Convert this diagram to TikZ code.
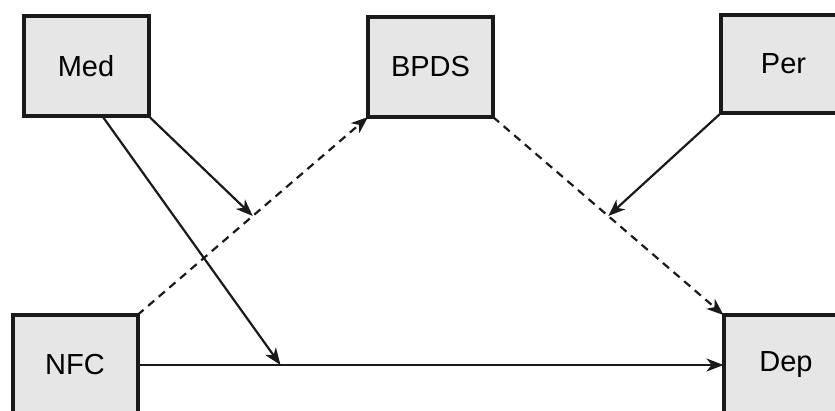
\documentclass[tikz,border=0pt]{standalone}
\usepackage{fontspec}
\setmainfont{Liberation Sans}
\usetikzlibrary{calc,arrows.meta}
\definecolor{boxfill}{HTML}{E6E6E6}
\definecolor{ink}{HTML}{1A1A1A}
\begin{document}
\begin{tikzpicture}[x=1pt,y=-1pt,
  var/.style={draw=ink,fill=boxfill,line width=4pt,inner sep=0pt,outer sep=0pt,
    minimum width=125pt,minimum height=100pt,font=\fontsize{29}{32}\selectfont},
  conn/.style={draw=ink,line width=2.2pt,-{Stealth[length=17pt,width=13pt,inset=5pt]}},
  dconn/.style={conn,dash pattern=on 8pt off 6pt}]
\useasboundingbox (0,0) rectangle (835,410);
\node[var] (med)  at (86,66)    {Med};
\node[var] (bpds) at (430.5,67) {BPDS};
\node[var,minimum height=98pt] (per) at (783.5,64) {Per};
\node[var] (nfc)  at (75,365)   {NFC};
\node[var] (dep)  at (786,365)  {Dep};
\coordinate (hit) at ($(nfc.east)!0.244!(dep.west)$);
\coordinate (m1) at ($(nfc.north east)!0.5!(bpds.south west)$);
\coordinate (m2) at ($(bpds.south east)!0.5!(dep.north west)$);
\draw[conn] (nfc.east) -- (dep.west);
\draw[dconn] (nfc.north east) -- (bpds.south west);
\draw[dconn] (bpds.south east) -- (dep.north west);
\draw[conn] ($(med.south west)!0.63!(med.south east)$) -- (hit);
\draw[conn] (med.south east) -- (m1);
\draw[conn] (per.south west) -- (m2);
\end{tikzpicture}
\end{document}
